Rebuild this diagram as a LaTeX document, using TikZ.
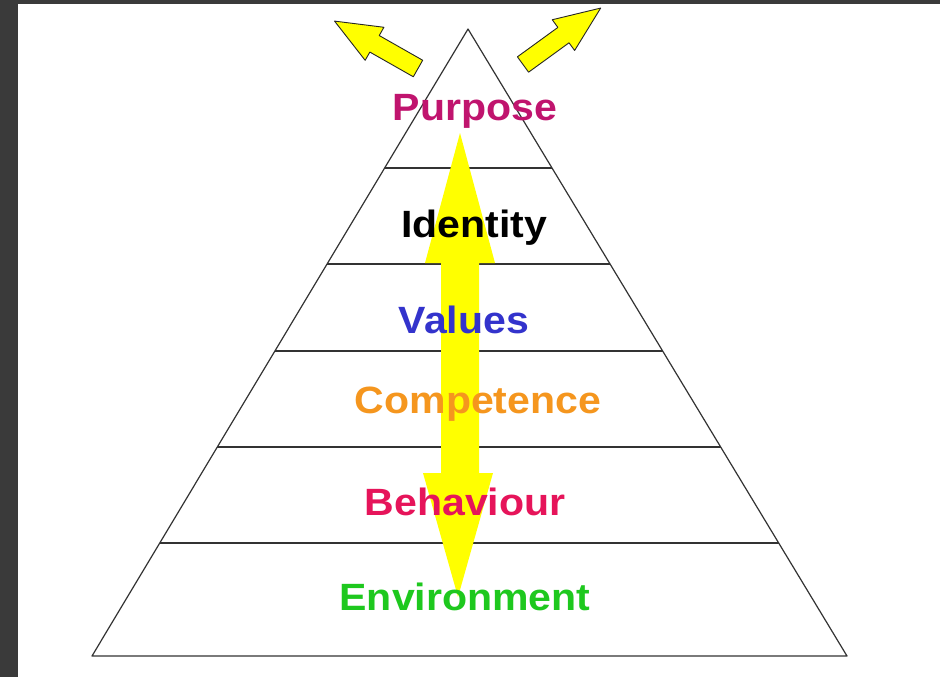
\documentclass[tikz,border=0pt]{standalone}
\usepackage{fontspec}
\setmainfont{Liberation Sans}
\usetikzlibrary{calc}
\definecolor{cpurpose}{RGB}{192,20,110}
\definecolor{cvalues}{RGB}{51,51,204}
\definecolor{ccomp}{RGB}{245,150,30}
\definecolor{cbehav}{RGB}{230,20,90}
\definecolor{cenv}{RGB}{30,200,30}
\definecolor{frame}{RGB}{58,58,58}
\definecolor{ayellow}{RGB}{255,255,0}
\begin{document}
\begin{tikzpicture}[x=1pt,y=-1pt,
  lbl/.style={font=\fontsize{38}{42}\selectfont\bfseries, anchor=base, xscale=1.08, inner sep=0pt},
  cornerarrow/.style={fill=ayellow, draw=black!85, line width=0.9pt, line join=round},
  edgeline/.style={draw=black!80, line width=1.2pt}]
\fill[frame] (0,0) rectangle (940,677);
\fill[white] (18,4) rectangle (940,677);
\useasboundingbox (0,0) rectangle (940,677);
% pyramid
\coordinate (A) at (468,29);
\coordinate (BL) at (92,656);
\coordinate (BR) at (847,656);
\draw[edgeline, line join=round] (A) -- (BL) -- (BR) -- cycle;
\foreach \n/\yy in {1/168,2/264,3/351,4/447,5/543}{
  \coordinate (L\n) at ($(A)!{(\yy-29)/627}!(BL)$);
  \coordinate (R\n) at ($(A)!{(\yy-29)/627}!(BR)$);
  \draw[edgeline] (L\n) -- (R\n);
}
% vertical double arrow
\fill[ayellow] (460,133) -- (495,263) -- (479,263) -- (479,473) -- (493,473)
  -- (458,597) -- (423,473) -- (441,473) -- (441,263) -- (425,263) -- cycle;
% corner arrows
\begin{scope}[shift={(418,68.5)}, rotate=150.4]
  \draw[cornerarrow] (0,9.5) -- (50,9.5) -- (50,19) -- (96,0) -- (50,-19) -- (50,-9.5) -- (0,-9.5) -- cycle;
\end{scope}
\begin{scope}[shift={(523,64.5)}, rotate=36]
  \draw[cornerarrow] (0,9.5) -- (50,9.5) -- (50,19) -- (96,0) -- (50,-19) -- (50,-9.5) -- (0,-9.5) -- cycle;
\end{scope}
% labels
\node[lbl, text=cpurpose] (purpose) at (475,121) {Purpose};
\node[lbl, text=black] (identity) at (474,237) {Identity};
\node[lbl, text=cvalues] (values) at (464,333) {Values};
\node[lbl, text=ccomp] (competence) at (478,413) {Competence};
\node[lbl, text=cbehav] (behaviour) at (465,515) {Behaviour};
\node[lbl, text=cenv] (environment) at (465,610) {Environment};
\end{tikzpicture}
\end{document}
